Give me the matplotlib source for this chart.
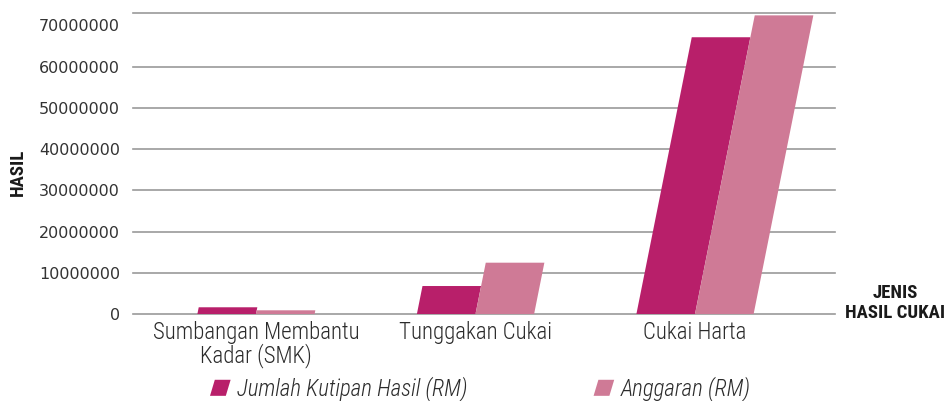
import numpy as np
import matplotlib
matplotlib.use("Agg")
import matplotlib.pyplot as plt
from matplotlib.patches import Polygon
from matplotlib.legend_handler import HandlerPatch

# data
categories = ["Sumbangan Membantu\nKadar (SMK)", "Tunggakan Cukai", "Cukai Harta"]
kutipan = [1.7e6, 6.85e6, 67.1e6]
anggaran = [0.97e6, 12.5e6, 72.4e6]
series_names = ["Jumlah Kutipan Hasil (RM)", "Anggaran (RM)"]
ytick_vals = [0, 10e6, 20e6, 30e6, 40e6, 50e6, 60e6, 70e6]
grid_vals = [0, 10e6, 20e6, 30e6, 40e6, 50e6, 60e6]
y_top = 72.9e6

c_dark = "#B81F6A"
c_light = "#CF7A96"
txt = "#2b2b2b"
cond = ["Roboto Condensed", "DejaVu Sans"]

fig = plt.figure(figsize=(9.46, 4.01), dpi=100)
ax = fig.add_axes([133 / 946, 86.7 / 401, 702 / 946, 301 / 401])

ax.set_xlim(-0.560, 2.638)
ax.set_ylim(0, y_top)

for g in grid_vals + [y_top]:
    ax.axhline(g, color="#9a9a9a", lw=1.2, zorder=1, clip_on=False)

for s in ax.spines.values():
    s.set_visible(False)

# skew of the bars: horizontal shift = 0.2 * height (in pixels)
skew = 0.2
p0 = ax.transData.transform((0, 0))
p1 = ax.transData.transform((1, 1e7))
k = skew * ((p1[1] - p0[1]) / 1e7) / (p1[0] - p0[0])

w = 0.267
x = np.arange(len(categories))
for vals, col, off in [(kutipan, c_dark, -w), (anggaran, c_light, 0)]:
    for xi, v in zip(x, vals):
        xl = xi + off
        sh = v * k
        poly = Polygon([(xl, 0), (xl + w, 0), (xl + w + sh, v), (xl + sh, v)],
                       closed=True, facecolor=col, edgecolor="none", zorder=3)
        ax.add_patch(poly)

ax.set_yticks(ytick_vals)
ax.set_yticklabels([str(int(v)) for v in ytick_vals])
ax.tick_params(axis="y", length=0, pad=9.4, labelsize=11.5, labelcolor="#333333")
ax.set_xticks(x)
ax.set_xticklabels(categories, fontsize=16.5, color=txt, family=cond, fontweight=300, linespacing=0.95)
ax.tick_params(axis="x", length=0, pad=5)

fig.text(18 / 946, 1 - 172 / 401, "HASIL", rotation=90, ha="center", va="center",
         fontsize=13.5, fontweight="bold", color="#1a1a1a", family=cond)
fig.text(895 / 946, 1 - 303 / 401, "JENIS\nHASIL CUKAI", ha="center", va="center",
         fontsize=13.5, fontweight="bold", color="#1a1a1a", family=cond, linespacing=1.1)


class SkewHandler(HandlerPatch):
    def create_artists(self, legend, orig_handle, xdescent, ydescent, width, height, fontsize, trans):
        sh = 0.3 * height
        x0, y0 = -xdescent, -ydescent
        p = Polygon([(x0, y0), (x0 + width - sh, y0), (x0 + width, y0 + height), (x0 + sh, y0 + height)],
                    closed=True, facecolor=orig_handle.get_facecolor(), edgecolor="none", transform=trans)
        return [p]


handles = [Polygon([(0, 0)], facecolor=c_dark), Polygon([(0, 0)], facecolor=c_light)]
leg = fig.legend(handles, series_names, loc="center left", bbox_to_anchor=(210 / 946, 12 / 401),
                 ncol=2, frameon=False, borderpad=0, borderaxespad=0, handlelength=0.9,
                 handleheight=0.7, handletextpad=0.28, columnspacing=5.5,
                 handler_map={Polygon: SkewHandler()},
                 prop={"family": cond, "style": "italic", "weight": 300, "size": 16.5})
for t in leg.get_texts():
    t.set_color(txt)

fig.savefig("out.png", dpi=100)
